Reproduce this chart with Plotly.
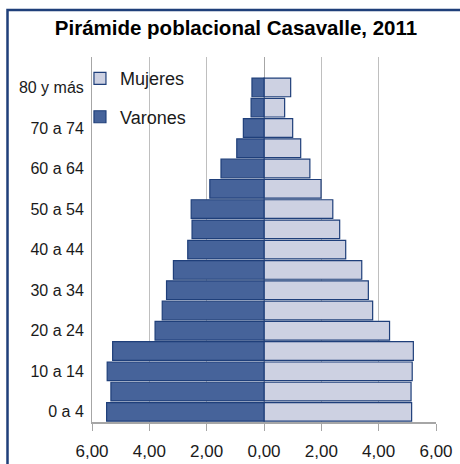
import plotly.graph_objects as go

categories = ["0 a 4", "5 a 9", "10 a 14", "15 a 19", "20 a 24", "25 a 29", "30 a 34",
              "35 a 39", "40 a 44", "45 a 49", "50 a 54", "55 a 59", "60 a 64",
              "65 a 69", "70 a 74", "75 a 79", "80 y más"]
varones = [5.49, 5.34, 5.47, 5.28, 3.80, 3.55, 3.40, 3.16, 2.66, 2.51, 2.54, 1.89, 1.50,
           0.95, 0.72, 0.45, 0.42]
mujeres = [5.15, 5.13, 5.17, 5.21, 4.38, 3.79, 3.64, 3.41, 2.85, 2.64, 2.40, 1.99, 1.60,
           1.28, 1.00, 0.72, 0.93]
x_tick_values = [-6, -4, -2, 0, 2, 4, 6]
x_tick_labels = ["6,00", "4,00", "2,00", "0,00", "2,00", "4,00", "6,00"]
y_tick_labels = categories[::2]

FONT = "Liberation Sans, Arial, sans-serif"
NAVY = "#1F3F7A"

fig = go.Figure()
fig.add_trace(go.Bar(
    y=categories, x=mujeres, orientation="h", name="Mujeres",
    marker=dict(color="#CDD1E2", line=dict(color=NAVY, width=1.2)),
    legendgroup="m",
))
fig.add_trace(go.Bar(
    y=categories, x=[-v for v in varones], orientation="h", name="Varones",
    marker=dict(color="#46639A", line=dict(color=NAVY, width=1.2)),
    legendgroup="v",
))

n = len(categories)
fig.update_layout(
    width=460, height=464,
    margin=dict(l=92, r=24, t=57, b=42, autoexpand=False),
    paper_bgcolor="white", plot_bgcolor="white",
    barmode="overlay", bargap=0.08,
    font=dict(family=FONT, color="#1a1a1a"),
    title=dict(text="<b>Pirámide poblacional Casavalle, 2011</b>",
               x=0.4186, xref="paper", xanchor="center",
               y=1 - 28 / 464, yref="container", yanchor="middle",
               font=dict(size=20.5, color="#000000", family=FONT)),
    legend=dict(x=-0.035, y=0.9914, xanchor="left", yanchor="top",
                traceorder="grouped", tracegroupgap=12,
                font=dict(size=18, color="#1a1a1a"),
                bgcolor="rgba(0,0,0,0)"),
    xaxis=dict(range=[-6, 6], tickvals=x_tick_values, ticktext=x_tick_labels,
               showgrid=True, gridcolor="#BFBFBF", gridwidth=1,
               zeroline=True, zerolinecolor="#A6A6A6", zerolinewidth=1,
               showline=True, linecolor="#A6A6A6", linewidth=1.5,
               ticks="outside", ticklen=7, tickcolor="#A6A6A6",
               ticklabelstandoff=6,
               tickfont=dict(size=17, color="#1a1a1a"), fixedrange=True),
    yaxis=dict(type="category", categoryorder="array", categoryarray=categories,
               range=[-0.5, n + 0.5],
               tickvals=y_tick_labels, ticktext=y_tick_labels,
               showgrid=False, showline=True, linecolor="#A6A6A6", linewidth=1,
               ticks="", ticklabelstandoff=4,
               tickfont=dict(size=16, color="#1a1a1a")),
    yaxis2=dict(overlaying="y", anchor="free", position=0.5, side="left",
                range=[-0.5, n + 0.5],
                tickvals=[i - 0.5 for i in range(n + 1)],
                showticklabels=False, ticks="outside", ticklen=5, tickcolor="#A6A6A6",
                showgrid=False, showline=False, zeroline=False),
    shapes=[dict(type="rect", xref="paper", yref="paper",
                 x0=(7.5 - 92) / 344, x1=1.3, y0=-0.3, y1=(422 - 10) / 365,
                 line=dict(color=NAVY, width=2.5), fillcolor="rgba(0,0,0,0)",
                 layer="above")],
)

fig.write_html("out.html", config={"displayModeBar": False},
               post_script="document.body.style.margin='0';")
